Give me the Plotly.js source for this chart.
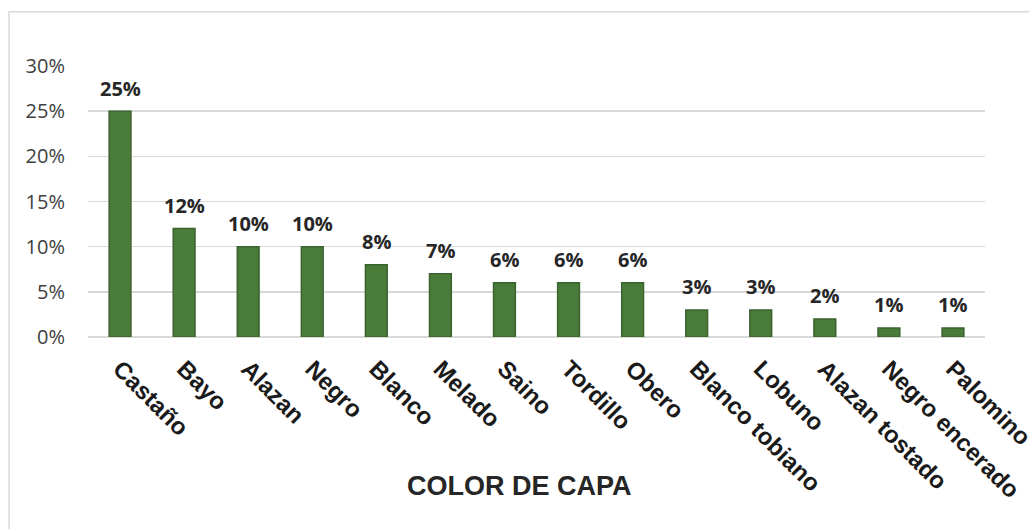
<!DOCTYPE html>
<html>
<head>
<meta charset="utf-8">
<script src="https://cdn.plot.ly/plotly-3.0.1.min.js"></script>
<style>
  html, body { margin: 0; padding: 0; background: #ffffff; }
  #chart { width: 1029px; height: 529px; }
</style>
</head>
<body>
<div id="chart"></div>
<script>
// Distribución de colores de capa (proporción de animales)
const colores = ["Castaño", "Bayo", "Alazan", "Negro", "Blanco", "Melado", "Saino",
                 "Tordillo", "Obero", "Blanco tobiano", "Lobuno", "Alazan tostado",
                 "Negro encerado", "Palomino"];
const proporcion = [0.25, 0.12, 0.10, 0.10, 0.08, 0.07, 0.06,
                    0.06, 0.06, 0.03, 0.03, 0.02, 0.01, 0.01];
const ticksY = [0, 0.05, 0.10, 0.15, 0.20, 0.25, 0.30];
const etiquetasY = ["0%", "5%", "10%", "15%", "20%", "25%", "30%"];
const tituloX = "COLOR DE CAPA";

const barras = {
  type: "bar",
  x: colores,
  y: proporcion,
  width: 0.34,
  marker: { color: "#4a7c39", line: { color: "#3b6330", width: 1.5 } },
  hoverinfo: "x+y"
};

// Etiquetas de porcentaje sobre cada barra
const etiquetas = colores.map((c, i) => ({
  x: c, y: proporcion[i], xref: "x", yref: "y",
  text: Math.round(proporcion[i] * 100) + "%",
  showarrow: false, yanchor: "middle", yshift: 23,
  font: { family: "'Open Sans', sans-serif", size: 20, color: "#262626", weight: "bold" }
}));

etiquetas.push({
  xref: "paper", yref: "paper", x: 0.4816, y: -0.55,
  xanchor: "center", yanchor: "middle", showarrow: false,
  text: "<b>" + tituloX + "</b>",
  font: { family: "'Liberation Sans', Arial, sans-serif", size: 27, color: "#262626" }
});

const layout = {
  width: 1029, height: 529,
  margin: { l: 88, r: 44, t: 65.5, b: 191.5, pad: 0 },
  paper_bgcolor: "#ffffff", plot_bgcolor: "#ffffff",
  showlegend: false,
  xaxis: {
    type: "category",
    tickangle: 45,
    ticks: "", ticklabelstandoff: 12,
    showgrid: false, showline: false, zeroline: false,
    tickfont: { family: "'Liberation Sans', Arial, sans-serif", size: 24, color: "#1a1a1a", weight: "bold" },
    automargin: false
  },
  yaxis: {
    range: [0, 0.30],
    tickvals: ticksY, ticktext: etiquetasY,
    ticks: "", ticklabelstandoff: 22,
    showgrid: true, gridcolor: "#d9d9d9", gridwidth: 1.5,
    zeroline: true, zerolinecolor: "#d9d9d9", zerolinewidth: 1.5,
    showline: false,
    tickfont: { family: "'Open Sans', sans-serif", size: 20, color: "#404040" },
    automargin: false
  },
  annotations: etiquetas,
  shapes: [{
    type: "rect", xref: "paper", yref: "paper",
    x0: -0.088, x1: 1.2, y0: -0.9, y1: 1.2004,
    line: { color: "#d9d9d9", width: 1.5 }, layer: "below"
  }]
};

Plotly.newPlot("chart", [barras], layout, { staticPlot: true, displayModeBar: false });
</script>
</body>
</html>
